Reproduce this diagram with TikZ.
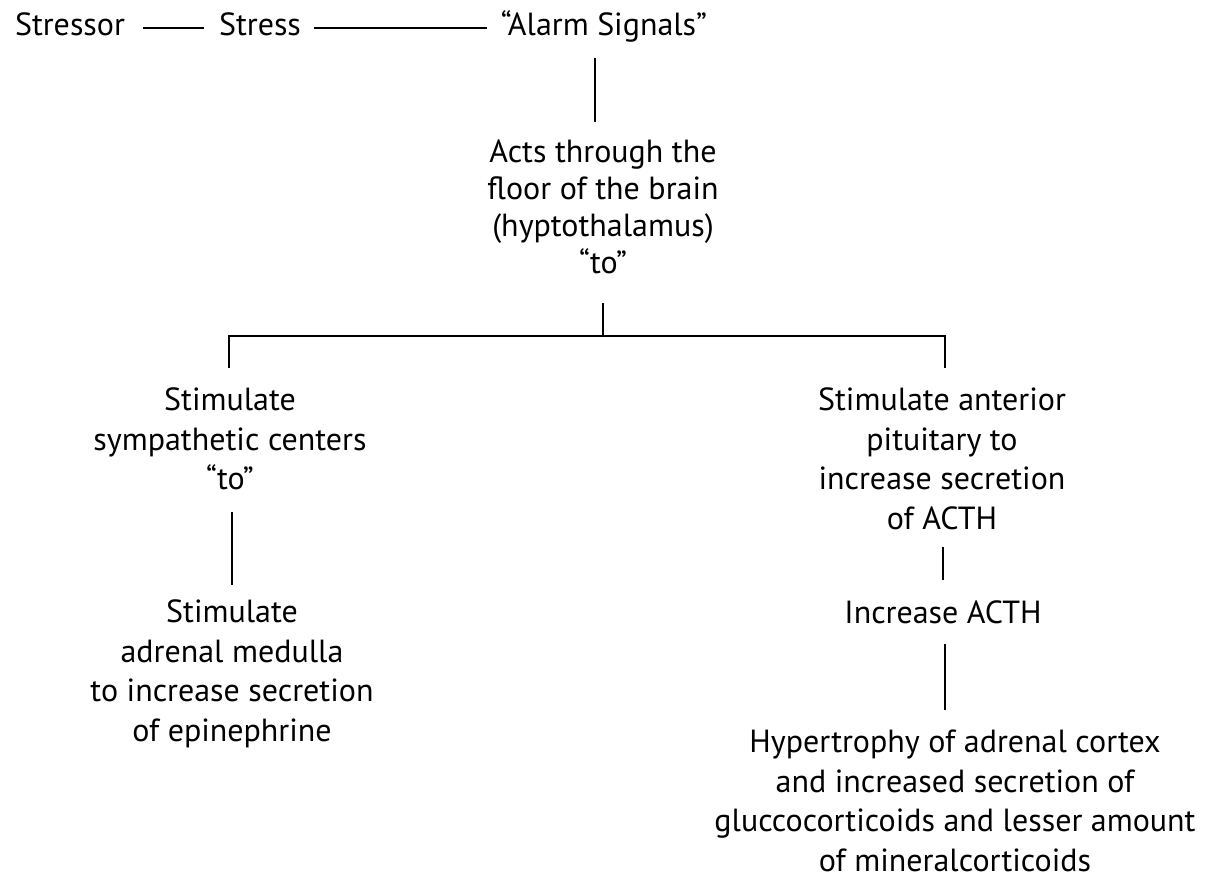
\documentclass[tikz,border=0pt]{standalone}
\usepackage{fontspec}
\setmainfont{PT Sans}
\begin{document}
\begin{tikzpicture}[x=1pt,y=-1pt,
  txt/.style={align=center,inner sep=0pt,font=\fontsize{32}{39.5}\selectfont},
  txttight/.style={txt,font=\fontsize{32}{37}\selectfont},
  conn/.style={line width=2.8pt}]
\useasboundingbox (0,0) rectangle (1214,882);
\node[txt,anchor=base] (stressor) at (70,36) {Stressor};
\node[txt,anchor=base] (stress) at (260,36) {Stress};
\node[txt,anchor=base] (alarm) at (604,36) {“Alarm Signals”};
\node[txttight,anchor=north] (acts) at (603,140) {Acts through the\\floor of the brain\\(hyptothalamus)\\“to”};
\node[txt,anchor=north] (symp) at (230,388) {Stimulate\\sympathetic centers\\“to”};
\node[txt,anchor=north] (med) at (232,600) {Stimulate\\adrenal medulla\\to increase secretion\\of epinephrine};
\node[txt,anchor=north] (ant) at (942,388) {Stimulate anterior\\pituitary to\\increase secretion\\of ACTH};
\node[txt,anchor=north] (incr) at (943,601) {Increase ACTH};
\node[txt,anchor=north] (hyper) at (955,730) {Hypertrophy of adrenal cortex\\and increased secretion of\\gluccocorticoids and lesser amount\\of mineralcorticoids};
\coordinate (jc) at (603,336);
\coordinate (jl) at (229,336);
\coordinate (jr) at (945,336);
\draw[conn] ([xshift=18pt,yshift=8pt]stressor.base east) -- ([xshift=-15pt,yshift=8pt]stress.base west);
\draw[conn] ([xshift=13pt,yshift=8pt]stress.base east) -- ([xshift=-14pt,yshift=8pt]alarm.base west);
\draw[conn] (595,58) -- (595,122);
\draw[conn] (603,303) -- (jc);
\draw[conn] (jl) ++(0,32) -- (jl) -- (jr) -- ++(0,32);
\draw[conn] (232,512) -- (232,585);
\draw[conn] (943,547) -- (943,580);
\draw[conn] (945,644) -- (945,710);
\end{tikzpicture}
\end{document}
